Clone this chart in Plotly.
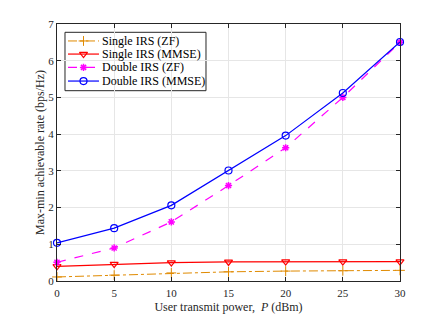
import plotly.graph_objects as go

power = [0, 5, 10, 15, 20, 25, 30]
single_zf = [0.11, 0.16, 0.22, 0.25, 0.27, 0.28, 0.29]
single_mmse = [0.40, 0.46, 0.50, 0.52, 0.53, 0.53, 0.53]
double_zf = [0.51, 0.90, 1.61, 2.60, 3.63, 5.00, 6.50]
double_mmse = [1.04, 1.44, 2.06, 3.01, 3.96, 5.12, 6.51]

x_ticks = [0, 5, 10, 15, 20, 25, 30]
y_ticks = [0, 1, 2, 3, 4, 5, 6, 7]

series_names = ["Single IRS (ZF)", "Single IRS (MMSE)", "Double IRS (ZF)", "Double IRS (MMSE)"]
series_values = [single_zf, single_mmse, double_zf, double_mmse]

SERIF = "Times New Roman, Liberation Serif, DejaVu Serif, serif"

styles = [
    dict(color="#E08A00", dash="dashdot", width=1, symbol="cross-thin-open", size=7, mlw=1),
    dict(color="#FF0000", dash="solid", width=1.2, symbol="triangle-down-open", size=7, mlw=1.2),
    dict(color="#FF00FF", dash="dash", width=1.2, symbol="asterisk-open", size=6, mlw=1.5),
    dict(color="#0000FF", dash="solid", width=1.2, symbol="circle-open", size=7, mlw=1.2),
]

fig = go.Figure()
for name, vals, st in zip(series_names, series_values, styles):
    fig.add_trace(go.Scatter(
        x=power, y=vals, name=name, mode="lines+markers", showlegend=False,
        line=dict(color=st["color"], width=st["width"], dash=st["dash"]),
        marker=dict(symbol=st["symbol"], size=st["size"], color=st["color"],
                    line=dict(color=st["color"], width=st["mlw"])),
        cliponaxis=False))

# custom compact legend (MATLAB-like) on an overlay axis with [0,1] ranges
leg_box = dict(x0=0.0233, x1=0.4344, y0=0.7405, y1=0.9677)
row_y = [0.934, 0.883, 0.831, 0.778]
line_x = [0.0321, 0.1224]
mark_x = 0.0773
text_x = 0.126

fig.add_shape(type="rect", xref="paper", yref="paper",
              x0=leg_box["x0"], x1=leg_box["x1"], y0=leg_box["y0"], y1=leg_box["y1"],
              line=dict(color="#262626", width=1), fillcolor="white", layer="between")

for name, ry, st in zip(series_names, row_y, styles):
    fig.add_trace(go.Scatter(
        x=line_x, y=[ry, ry], xaxis="x2", yaxis="y2", mode="lines", showlegend=False,
        hoverinfo="skip", line=dict(color=st["color"], width=st["width"], dash=st["dash"])))
    fig.add_trace(go.Scatter(
        x=[mark_x], y=[ry], xaxis="x2", yaxis="y2", mode="markers", showlegend=False,
        hoverinfo="skip",
        marker=dict(symbol=st["symbol"], size=st["size"], color=st["color"],
                    line=dict(color=st["color"], width=st["mlw"]))))
    fig.add_annotation(x=text_x, y=ry, xref="paper", yref="paper", text=name,
                       showarrow=False, xanchor="left", yanchor="middle",
                       font=dict(family=SERIF, size=12, color="#000000"))

axis_common = dict(showline=True, linecolor="#262626", linewidth=1, mirror="ticks",
                   ticks="inside", ticklen=4, tickcolor="#262626", automargin=False,
                   showgrid=True, gridcolor="#E6E6E6", gridwidth=1, zeroline=False,
                   tickfont=dict(family=SERIF, size=11, color="#262626"))

fig.update_layout(
    width=435, height=307,
    margin=dict(l=49, r=43, t=16, b=34),
    paper_bgcolor="white", plot_bgcolor="white",
    font=dict(family=SERIF, size=11, color="#262626"),
    showlegend=False,
    xaxis=dict(range=[0, 30], tickvals=x_ticks, ticklabelstandoff=2,
               title=dict(text="User transmit power,  <i>P</i> (dBm)", standoff=4,
                          font=dict(family=SERIF, size=12, color="#262626")),
               **axis_common),
    yaxis=dict(range=[0, 7], tickvals=y_ticks,
               title=dict(text="Max-min achievable rate (bps/Hz)", standoff=1,
                          font=dict(family=SERIF, size=12, color="#262626")),
               **axis_common),
    xaxis2=dict(overlaying="x", range=[0, 1], visible=False, fixedrange=True),
    yaxis2=dict(overlaying="y", range=[0, 1], visible=False, fixedrange=True),
)

fig.write_html("out.html")
